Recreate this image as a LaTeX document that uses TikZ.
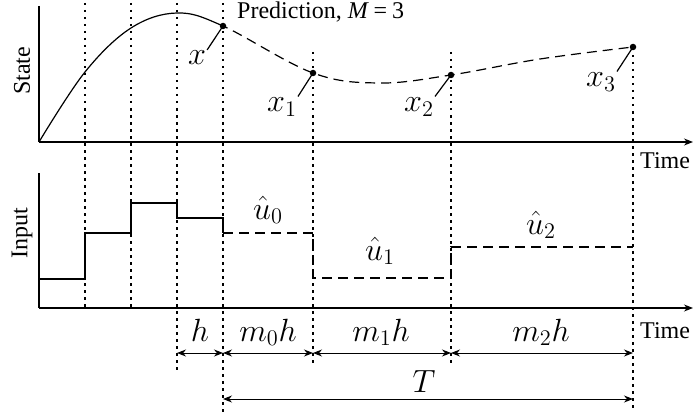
\documentclass[tikz,border=0pt]{standalone}
\usepackage{fontspec}
\setmainfont{Liberation Serif}
\usetikzlibrary{arrows.meta}
\newcommand\mlab[1]{\scalebox{1.55}{$#1$}}
\begin{document}
\begin{tikzpicture}[x=1pt,y=-1pt,
  tip/.tip={Stealth[length=9pt,width=7pt]},
  axisline/.style={line width=1.2pt,-tip},
  gridline/.style={line width=1.1pt,dash pattern=on 2.5pt off 4.5pt},
  solidline/.style={line width=1.2pt},
  predline/.style={line width=1.2pt,dash pattern=on 10pt off 6pt},
  dimline/.style={line width=1pt,tip-tip},
  lbl/.style={font=\fontsize{24}{28}\selectfont,inner sep=0pt},
  mth/.style={font=\fontsize{20.74}{26}\selectfont,inner sep=1pt},
  ptdot/.style={circle,fill,inner sep=0pt,minimum size=6.5pt},
  pointer/.style={line width=1.2pt}]
\useasboundingbox (0,0) rectangle (694,412);

% vertical dotted grid lines
\draw[gridline] (85,3) -- (85,308);
\draw[gridline] (131,3) -- (131,308);
\draw[gridline] (177,3) -- (177,370);
\draw[gridline] (223,3) -- (223,412);
\draw[gridline] (313,52) -- (313,363);
\draw[gridline] (451,52) -- (451,363);
\draw[gridline] (633,48) -- (633,412);

% axes
\coordinate (o1) at (39,142);
\coordinate (o2) at (39,308);
\draw[solidline] (39,6) -- (o1);
\draw[axisline] (o1) -- (693,142);
\draw[solidline] (39,173) -- (o2);
\draw[axisline] (o2) -- (693,308);

\node[lbl,rotate=90] (state) at (22,71) {State};
\node[lbl,rotate=90] (input) at (22,233) {Input};
\node[lbl,anchor=base west] (time1) at (640,168) {Time};
\node[lbl,anchor=base west] (time2) at (640,338) {Time};
\node[lbl,anchor=base west] (pred) at (237,19) {Prediction, \textit{M}\hspace{0.2em}=\hspace{0.2em}3};

% state trajectory
\def\traj{plot[smooth,tension=0.6] coordinates {(39,142) (85,72) (131,28) (177,13) (223,26) (313,73) (380,83) (451,75) (540,59) (633,47)}}
\begin{scope}
  \clip (0,0) rectangle (223,200);
  \draw[solidline] \traj;
\end{scope}
\begin{scope}
  \clip (223,0) rectangle (694,200);
  \draw[predline] \traj;
\end{scope}

\node[ptdot] (p0) at (223,26) {};
\node[ptdot] (p1) at (313,73) {};
\node[ptdot] (p2) at (451,75) {};
\node[ptdot] (p3) at (633,47) {};

\node[mth] (l0) at (197,58) {\mlab{x}};
\node[mth] (l1) at (282,107) {\mlab{x_1}};
\node[mth] (l2) at (419,107) {\mlab{x_2}};
\node[mth] (l3) at (601,82) {\mlab{x_3}};
\draw[pointer] (l0.north east) -- (p0.center);
\draw[pointer] (l1.north east) -- (p1.center);
\draw[pointer] (l2.north east) -- (p2.center);
\draw[pointer] (l3.north east) -- (p3.center);

% input
\draw[solidline] (39,279) -| (85,233) -| (131,203) -| (177,218) -| (223,233);
\draw[predline] (223,233) -| (313,278) -| (451,247) -- (633,247);
\node[mth,anchor=base] (u0) at (268,219) {\mlab{\hat{u}_0}};
\node[mth,anchor=base] (u1) at (380,260) {\mlab{\hat{u}_1}};
\node[mth,anchor=base] (u2) at (541,234) {\mlab{\hat{u}_2}};

% dimensions
\coordinate (a0) at (177,353);
\coordinate (a1) at (223,353);
\coordinate (a2) at (313,353);
\coordinate (a3) at (451,353);
\coordinate (a4) at (633,353);
\coordinate (t0) at (223,399);
\coordinate (t1) at (633,399);
\draw[dimline] (a0) -- (a1);
\draw[dimline] (a1) -- (a2);
\draw[dimline] (a2) -- (a3);
\draw[dimline] (a3) -- (a4);
\draw[dimline] (t0) -- (t1);
\node[mth,anchor=base] (dh) at (200,341) {\mlab{h}};
\node[mth,anchor=base] (dm0) at (268,341) {\mlab{m_0h}};
\node[mth,anchor=base] (dm1) at (381,341) {\mlab{m_1h}};
\node[mth,anchor=base] (dm2) at (541,341) {\mlab{m_2h}};
\node[mth,anchor=base] (dT) at (424,392) {\mlab{T}};
\end{tikzpicture}
\end{document}
